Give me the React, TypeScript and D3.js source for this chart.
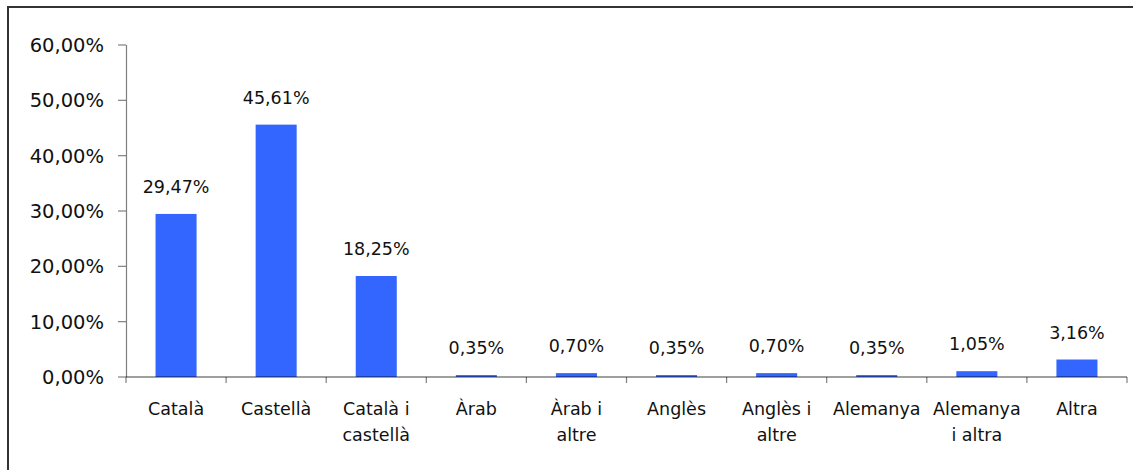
import React from "react";
import * as d3 from "d3";

const categories = [
  "Català",
  "Castellà",
  "Català i\ncastellà",
  "Àrab",
  "Àrab i\naltre",
  "Anglès",
  "Anglès i\naltre",
  "Alemanya",
  "Alemanya\ni altra",
  "Altra",
];
const values = [29.47, 45.61, 18.25, 0.35, 0.7, 0.35, 0.7, 0.35, 1.05, 3.16];
const yTicks = [0, 10, 20, 30, 40, 50, 60];

const W = 1133;
const H = 470;
const FONT = "'DejaVu Sans', sans-serif";

const locale = d3.formatLocale({
  decimal: ",",
  thousands: ".",
  grouping: [3],
  currency: ["", "€"],
});
const pct = locale.format(".2%");

export default function App() {
  const x = d3
    .scaleBand<string>()
    .domain(categories)
    .range([126, 1127])
    .paddingInner(0.59)
    .paddingOuter(0.295);
  const y = d3.scaleLinear().domain([0, 60]).range([377, 45]);
  const band = (x.step());
  const x0 = 126;

  return (
    <svg
      width={W}
      height={H}
      style={{ position: "absolute", left: 0, top: 0, background: "#fff" }}
    >
      <rect x={8} y={7} width={W + 20} height={H + 20} fill="#fff" stroke="#333" strokeWidth={2} />
      {/* bars */}
      {categories.map((c, i) => (
        <rect
          key={c}
          x={x(c)}
          y={y(values[i])}
          width={x.bandwidth()}
          height={y(0) - y(values[i])}
          fill="#3366FF"
        />
      ))}
      {/* y axis */}
      <line x1={x0 + 0.5} x2={x0 + 0.5} y1={y(60)} y2={y(0)} stroke="#000" strokeOpacity={0.5} strokeWidth={1.2} />
      {yTicks.map((t) => (
        <g key={t}>
          <line x1={118} x2={x0} y1={y(t)} y2={y(t)} stroke="#000" strokeOpacity={0.5} strokeWidth={1.2} />
          <text
            x={104}
            y={y(t)}
            dy="0.36em"
            textAnchor="end"
            fontFamily={FONT}
            fontSize={19.5}
            fill="#111"
          >
            {pct(t / 100)}
          </text>
        </g>
      ))}
      {/* x axis */}
      <line x1={x0} x2={1127} y1={y(0)} y2={y(0)} stroke="#000" strokeOpacity={0.5} strokeWidth={1.5} />
      {d3.range(categories.length + 1).map((i) => (
        <line
          key={i}
          x1={x0 + i * band}
          x2={x0 + i * band}
          y1={y(0)}
          y2={y(0) + 6}
          stroke="#000"
          strokeOpacity={0.5}
          strokeWidth={1.2}
        />
      ))}
      {/* category labels */}
      {categories.map((c) => {
        const cx = (x(c) as number) + x.bandwidth() / 2;
        return (
          <text key={c} x={cx} y={415} textAnchor="middle" fontFamily={FONT} fontSize={17.5} fill="#111">
            {c.split("\n").map((ln, j) => (
              <tspan key={j} x={cx} dy={j === 0 ? 0 : 26}>
                {ln}
              </tspan>
            ))}
          </text>
        );
      })}
      {/* value labels */}
      {categories.map((c, i) => (
        <text
          key={c}
          x={(x(c) as number) + x.bandwidth() / 2}
          y={y(values[i]) - 21}
          textAnchor="middle"
          fontFamily={FONT}
          fontSize={17.5}
          fill="#111"
        >
          {pct(values[i] / 100)}
        </text>
      ))}
    </svg>
  );
}
